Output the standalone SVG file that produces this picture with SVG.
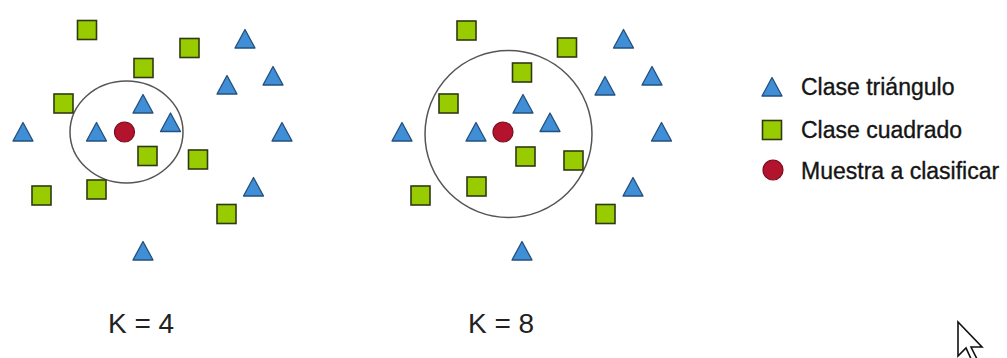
<svg xmlns="http://www.w3.org/2000/svg" xmlns:xlink="http://www.w3.org/1999/xlink" width="1007" height="358" viewBox="0 0 1007 358">
<style>
.tri{fill:#3f8ed6;stroke:#23507e;stroke-width:1.3;stroke-linejoin:round}
.sq{fill:#99cc00;stroke:#2f3a12;stroke-width:1.6}
.dot{fill:#b3132d;stroke:#7a0b1d;stroke-width:1.2}
.ring{fill:none;stroke:#555;stroke-width:1.5}
.lbl{font-family:"Liberation Sans",Arial,sans-serif;fill:#151515;stroke:#151515;stroke-width:0.35;font-size:23px}
.k{font-family:"Liberation Sans",Arial,sans-serif;fill:#222;font-size:28px}
</style>
<defs>
<path id="t" class="tri" d="M0,-9.5 L10,9 L-10,9 Z"/>
<rect id="s" class="sq" x="-9.5" y="-9.5" width="19" height="19"/>
<circle id="d" class="dot" r="10"/>
</defs>
<rect width="1007" height="358" fill="#fff"/>
<g id="panel-k4">
<ellipse id="ring-k4" class="ring" cx="126.5" cy="132" rx="56.5" ry="51"/>
<g id="k4-t1"><use href="#t" x="245" y="39"/></g>
<g id="k4-t2"><use href="#t" x="227" y="85"/></g>
<g id="k4-t3"><use href="#t" x="273" y="76"/></g>
<g id="k4-t4"><use href="#t" x="143" y="104"/></g>
<g id="k4-t5"><use href="#t" x="170.5" y="122.5"/></g>
<g id="k4-t6"><use href="#t" x="23" y="132"/></g>
<g id="k4-t7"><use href="#t" x="96.5" y="132"/></g>
<g id="k4-t8"><use href="#t" x="282" y="132"/></g>
<g id="k4-t9"><use href="#t" x="253.5" y="187"/></g>
<g id="k4-t10"><use href="#t" x="143" y="251"/></g>
<g id="k4-s1"><use href="#s" x="87" y="30"/></g>
<g id="k4-s2"><use href="#s" x="189.5" y="48"/></g>
<g id="k4-s3"><use href="#s" x="143.5" y="68"/></g>
<g id="k4-s4"><use href="#s" x="63.5" y="103.5"/></g>
<g id="k4-s5"><use href="#s" x="147.5" y="156"/></g>
<g id="k4-s6"><use href="#s" x="198" y="159.5"/></g>
<g id="k4-s7"><use href="#s" x="41.5" y="195.5"/></g>
<g id="k4-s8"><use href="#s" x="96.5" y="189.5"/></g>
<g id="k4-s9"><use href="#s" x="226.5" y="214"/></g>
<g id="k4-sample"><use href="#d" x="124.5" y="132"/></g>
<text class="k" x="108" y="333">K = 4</text>
</g>
<g id="panel-k8">
<circle id="ring-k8" class="ring" cx="508.5" cy="134" r="83.5"/>
<g id="k8-t1"><use href="#t" x="623.5" y="39"/></g>
<g id="k8-t2"><use href="#t" x="605" y="86"/></g>
<g id="k8-t3"><use href="#t" x="652" y="76"/></g>
<g id="k8-t4"><use href="#t" x="523" y="104"/></g>
<g id="k8-t5"><use href="#t" x="550" y="122.5"/></g>
<g id="k8-t6"><use href="#t" x="402" y="132"/></g>
<g id="k8-t7"><use href="#t" x="476" y="132"/></g>
<g id="k8-t8"><use href="#t" x="661.5" y="132"/></g>
<g id="k8-t9"><use href="#t" x="633" y="187"/></g>
<g id="k8-t10"><use href="#t" x="522" y="251"/></g>
<g id="k8-s1"><use href="#s" x="466.5" y="30.5"/></g>
<g id="k8-s2"><use href="#s" x="567" y="47.5"/></g>
<g id="k8-s3"><use href="#s" x="522" y="72.5"/></g>
<g id="k8-s4"><use href="#s" x="448.5" y="103.5"/></g>
<g id="k8-s5"><use href="#s" x="525.5" y="156.5"/></g>
<g id="k8-s6"><use href="#s" x="573.5" y="160.5"/></g>
<g id="k8-s7"><use href="#s" x="420.5" y="195.5"/></g>
<g id="k8-s8"><use href="#s" x="476.5" y="186.5"/></g>
<g id="k8-s9"><use href="#s" x="605.5" y="214"/></g>
<g id="k8-sample"><use href="#d" x="503" y="132"/></g>
<text class="k" x="468" y="333">K = 8</text>
</g>
<g id="legend">
<g id="legend-tri"><use href="#t" x="772" y="87"/><text class="lbl" x="801" y="95">Clase triángulo</text></g>
<g id="legend-sq"><use href="#s" x="772" y="130"/><text class="lbl" x="801" y="138">Clase cuadrado</text></g>
<g id="legend-dot"><use href="#d" x="773" y="170"/><text class="lbl" x="801" y="179">Muestra a clasificar</text></g>
</g>
<g id="connectors"/>
<g id="cursor">
<path d="M958,322 L958,356 L966,348 L972,361 L977,359 L971,347 L982,347 Z" fill="#fff" stroke="#111" stroke-width="1.6" stroke-linejoin="miter"/>
</g>
</svg>
